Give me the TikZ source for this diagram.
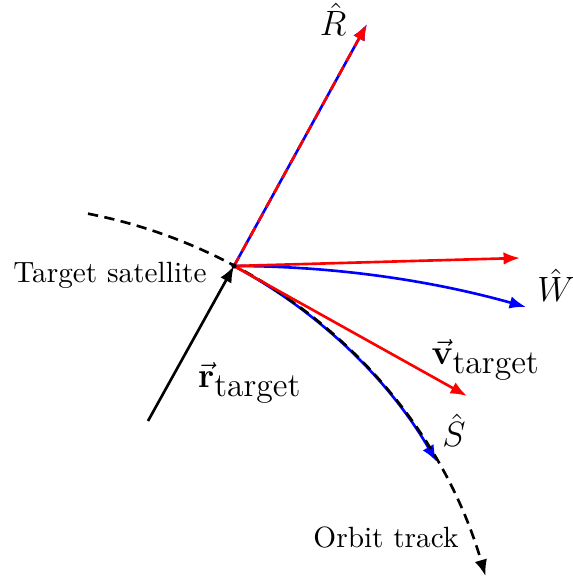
\documentclass[tikz,border=0pt]{standalone}
\usetikzlibrary{arrows.meta}
\begin{document}
\begin{tikzpicture}[x=0.3413pt,y=0.3413pt,
  vec/.style={line width=0.9pt,-{Latex[length=5.6pt,width=4.3pt]}},
  dsh/.style={dash pattern=on 3.5pt off 2.2pt},
  lbl/.style={inner sep=0pt,anchor=base},
  mlbl/.style={inner sep=0pt,anchor=base,font=\fontsize{11.5}{13}\selectfont}]
\useasboundingbox (0,0) rectangle (572,581);
\coordinate (O) at (234,315);
\coordinate (A) at (88,367.3);
\coordinate (Rt) at (367,557);
\coordinate (Wr) at (520,323);
\coordinate (Wb) at (526,274);
\coordinate (V) at (467,185);
\coordinate (Rs) at (148,160);
% blue frame
\draw[vec,blue] (O) -- (Rt);
\draw[vec,blue] (O) .. controls (331.3,315) and (428.7,301.3) .. (Wb);
\draw[vec,blue] (O) arc[start angle=61.8,end angle=30.2,radius=517];
% orbit
\draw[vec,dsh,black] (A) arc[start angle=79,end angle=16.3,radius=517];
% red frame
\draw[vec,red,dsh] (O) -- (Rt);
\draw[vec,red] (O) -- (Wr);
\draw[vec,red] (O) -- (V);
% position vector
\draw[vec,black] (Rs) -- (O);
\fill (O) circle[radius=0.9pt];
% labels
\node[mlbl] (lR) at (333,545) {$\hat{R}$};
\node[mlbl] (lW) at (556,279) {$\hat{W}$};
\node[mlbl] (lV) at (486,216) {$\vec{\mathbf{v}}_{\mbox{target}}$};
\node[mlbl] (lr) at (250,193) {$\vec{\mathbf{r}}_{\mbox{target}}$};
\node[mlbl] (lS) at (454,134) {$\hat{S}$};
\node[lbl] (lT) at (110,298) {Target satellite};
\node[lbl] (lO) at (386,33) {Orbit track};
\end{tikzpicture}
\end{document}
